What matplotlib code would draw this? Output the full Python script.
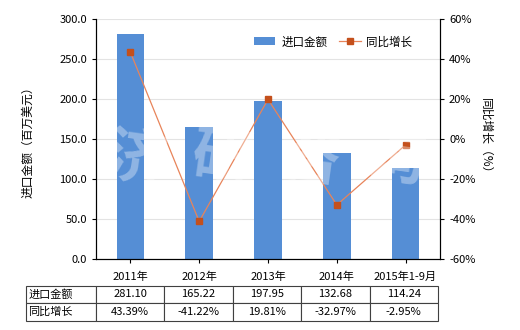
import matplotlib
matplotlib.use("Agg")
import matplotlib.pyplot as plt
from matplotlib.ticker import FuncFormatter, MultipleLocator

plt.rcParams['font.family'] = ['Noto Sans CJK SC', 'DejaVu Sans']

categories = ["2011年", "2012年", "2013年", "2014年", "2015年1-9月"]
import_values = [281.10, 165.22, 197.95, 132.68, 114.24]
growth_values = [43.39, -41.22, 19.81, -32.97, -2.95]
value_labels = ["281.10", "165.22", "197.95", "132.68", "114.24"]
growth_labels = ["43.39%", "-41.22%", "19.81%", "-32.97%", "-2.95%"]
series_names = ["进口金额", "同比增长"]
watermark = ["济", "研", "咨", "询"]

bar_color = "#558ed5"
line_color = "#e8845a"
marker_color = "#c4501c"
fs = 8

fig = plt.figure(figsize=(5.2, 3.3), dpi=100)
ax = fig.add_axes([96/520, 1-259/330, 344/520, 240/330])
x = list(range(len(categories)))
bars = ax.bar(x, import_values, width=0.4, color=bar_color, zorder=2, label=series_names[0])
ax.set_xlim(-0.5, len(categories)-0.5)
ax.set_ylim(0, 300)
ax.yaxis.set_major_locator(MultipleLocator(50))
ax.yaxis.set_major_formatter(FuncFormatter(lambda v, p: f"{v:.1f}"))
ax.grid(axis='y', color='#e3e3e3', linewidth=0.8, zorder=0)
ax.set_axisbelow(True)
ax.set_xticks(x)
ax.set_xticklabels(categories, fontsize=fs)
ax.tick_params(axis='y', labelsize=fs, length=3, width=0.8)
ax.tick_params(axis='x', length=3, width=0.8, pad=6)
ax.spines['top'].set_visible(False)
for s in ['left', 'bottom', 'right']:
    ax.spines[s].set_color('black')
    ax.spines[s].set_linewidth(0.8)
ax.set_ylabel("进口金额（百万美元）", fontsize=fs+0.5, labelpad=18)

ax2 = ax.twinx()
ax2.set_ylim(-60, 60)
ax2.yaxis.set_major_locator(MultipleLocator(20))
ax2.yaxis.set_major_formatter(FuncFormatter(lambda v, p: f"{v:.0f}%"))
ax2.tick_params(axis='y', labelsize=fs, length=3, width=0.8)
ax2.spines['top'].set_visible(False)
ax2.spines['right'].set_linewidth(0.8)
line, = ax2.plot(x, growth_values, color=line_color, linewidth=0.9, marker='s',
                 markersize=4.5, markerfacecolor=marker_color, markeredgecolor=marker_color,
                 zorder=3, label=series_names[1])
ax2.set_ylabel("同比增长（%）", fontsize=fs+0.5, rotation=-90, labelpad=12)

# watermark
wm_x = [135, 222, 310, 395]
for ch, px in zip(watermark, wm_x):
    fig.text(px/520, 1-160/330, ch, fontsize=44, color='white', alpha=0.35,
             ha='center', va='center', rotation=-8, fontweight='bold', zorder=10)

leg = ax2.legend([bars, line], series_names, loc='upper right', bbox_to_anchor=(0.95, 0.975),
                 ncol=2, frameon=False, fontsize=fs+0.3, handlelength=1.9,
                 columnspacing=1.0, handletextpad=0.5)

# table
cell_text = [[series_names[0]] + value_labels, [series_names[1]] + growth_labels]
col_w = [70/412] + [68.4/412]*5
tab = ax.table(cellText=cell_text, colWidths=col_w, cellLoc='center',
               bbox=[(26-96)/344, (259-320.7)/240, (438-26)/344, 35/240])
tab.auto_set_font_size(False)
for (r, c), cell in tab.get_celld().items():
    cell.set_edgecolor('#404040')
    cell.set_linewidth(0.8)
    cell.get_text().set_fontsize(fs)
    if c == 0:
        cell.get_text().set_ha('left')
        cell._loc = 'left'
        cell.PAD = 0.03

fig.savefig("out.png", dpi=100)
